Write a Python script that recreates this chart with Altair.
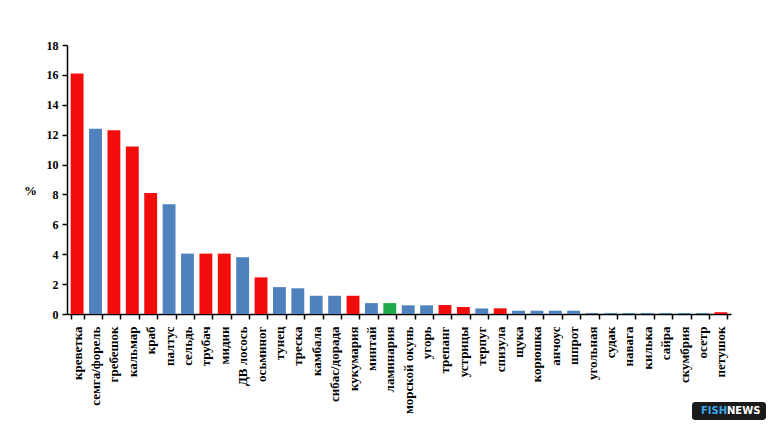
import altair as alt
import pandas as pd

categories = ["креветка", "семга/форель", "гребешок", "кальмар", "краб", "палтус",
              "сельдь", "трубач", "мидии", "ДВ лосось", "осьминог", "тунец", "треска",
              "камбала", "сибас/дорада", "кукумария", "минтай", "ламинария",
              "морской окунь", "угорь", "трепанг", "устрицы", "терпуг", "спизула",
              "щука", "корюшка", "анчоус", "шпрот", "угольная", "судак", "навага",
              "килька", "сайра", "скумбрия", "осетр", "петушок"]
values = [16.1, 12.4, 12.3, 11.2, 8.1, 7.35, 4.04, 4.04, 4.04, 3.8, 2.45, 1.8, 1.72,
          1.22, 1.22, 1.22, 0.73, 0.73, 0.58, 0.58, 0.6, 0.47, 0.37, 0.38,
          0.22, 0.22, 0.22, 0.22, 0.07, 0.07, 0.07, 0.07, 0.07, 0.07, 0.07, 0.12]
groups = ["red", "blue", "red", "red", "red", "blue", "blue", "red", "red", "blue",
          "red", "blue", "blue", "blue", "blue", "red", "blue", "green", "blue", "blue",
          "red", "red", "blue", "red", "blue", "blue", "blue", "blue", "blue", "blue",
          "blue", "blue", "blue", "blue", "blue", "red"]

df = pd.DataFrame({"cat": categories, "val": values, "grp": groups})

FONT = "Liberation Serif"

bars = alt.Chart(df).mark_bar().encode(
    x=alt.X("cat:N", sort=categories, title=None,
            scale=alt.Scale(paddingInner=0.3, paddingOuter=0.2),
            axis=alt.Axis(labelAngle=270, labelAlign="right", labelBaseline="middle",
                          labelFont=FONT, labelFontWeight="bold", labelFontSize=13,
                          labelColor="#000", labelPadding=7, tickBand="extent",
                          tickSize=5, tickColor="#000", tickWidth=1.5,
                          domainColor="#000", domainWidth=1.5, grid=False,
                          labelOverlap=False)),
    y=alt.Y("val:Q", title="%",
            scale=alt.Scale(domain=[0, 18]),
            axis=alt.Axis(values=list(range(0, 19, 2)), labelFont=FONT,
                          labelFontWeight="bold", labelFontSize=12, labelColor="#000",
                          tickSize=5, tickColor="#000", tickWidth=1.5,
                          domainColor="#000", domainWidth=1.5, grid=False,
                          labelPadding=4,
                          titleAngle=0, titleX=-37, titleY=145, titleAlign="center",
                          titleBaseline="middle", titleFont=FONT, titleFontSize=13,
                          titleFontWeight="bold", titleColor="#000")),
    color=alt.Color("grp:N", legend=None,
                    scale=alt.Scale(domain=["red", "blue", "green"],
                                    range=["#F20C0C", "#4F81BD", "#1FA84A"])),
)

logo_bg = alt.Chart(pd.DataFrame({"a": [0]})).mark_rect(
    color="#1a1a1a", cornerRadius=3, clip=False).encode(
    x=alt.value(625), x2=alt.value(699), y=alt.value(357), y2=alt.value(375))
logo_fish = alt.Chart(pd.DataFrame({"t": ["FISH"]})).mark_text(
    font="DejaVu Sans", fontWeight="bold", fontSize=10, color="#3BA7E8",
    align="right", baseline="middle", clip=False).encode(
    text="t:N", x=alt.value(660), y=alt.value(366))
logo_news = alt.Chart(pd.DataFrame({"t": ["NEWS"]})).mark_text(
    font="DejaVu Sans", fontWeight="bold", fontSize=10, color="#ffffff",
    align="left", baseline="middle", clip=False).encode(
    text="t:N", x=alt.value(660), y=alt.value(366))

chart = alt.layer(bars, logo_bg, logo_fish, logo_news).properties(
    width=664, height=269,
    autosize=alt.AutoSizeParams(type="none"),
    padding={"left": 59, "top": 37, "right": 37, "bottom": 109},
    background="white",
).configure_view(stroke=None)

chart.save("out.html", embed_options={"renderer": "svg", "actions": False})
